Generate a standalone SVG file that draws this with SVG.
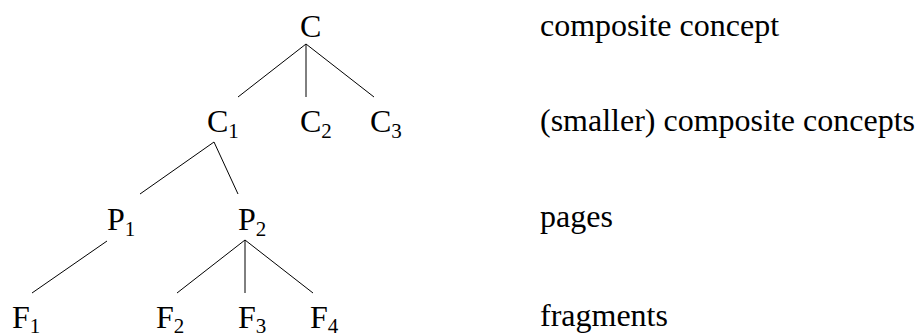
<svg xmlns="http://www.w3.org/2000/svg" width="919" height="336" viewBox="0 0 919 336">
<style>
.t{font-family:'Liberation Serif','Times New Roman','DejaVu Serif',serif;font-size:32px;fill:#000}
.sub{font-size:21px}
.edge{stroke:#000;stroke-width:1;fill:none}
</style>
<rect width="919" height="336" fill="#fff"/>
<g id="connectors">
<line class="edge" x1="306" y1="44" x2="238" y2="97"/>
<line class="edge" x1="306" y1="44" x2="306" y2="97"/>
<line class="edge" x1="306" y1="44" x2="374" y2="97"/>
<line class="edge" x1="214" y1="142" x2="140" y2="194"/>
<line class="edge" x1="214" y1="142" x2="238" y2="194"/>
<line class="edge" x1="107" y1="241" x2="32" y2="293"/>
<line class="edge" x1="245" y1="240" x2="177" y2="293"/>
<line class="edge" x1="245" y1="240" x2="245" y2="293"/>
<line class="edge" x1="245" y1="240" x2="313" y2="293"/>
</g>
<g id="node-C"><text class="t" x="300" y="37">C</text></g>
<g id="node-C1"><text class="t" x="207" y="132">C<tspan class="sub" dy="6">1</tspan></text></g>
<g id="node-C2"><text class="t" x="300" y="132">C<tspan class="sub" dy="6">2</tspan></text></g>
<g id="node-C3"><text class="t" x="370" y="132">C<tspan class="sub" dy="6">3</tspan></text></g>
<g id="node-P1"><text class="t" x="107" y="230">P<tspan class="sub" dy="6">1</tspan></text></g>
<g id="node-P2"><text class="t" x="238" y="230">P<tspan class="sub" dy="6">2</tspan></text></g>
<g id="node-F1"><text class="t" x="12" y="328">F<tspan class="sub" dy="5">1</tspan></text></g>
<g id="node-F2"><text class="t" x="156" y="328">F<tspan class="sub" dy="5">2</tspan></text></g>
<g id="node-F3"><text class="t" x="238" y="328">F<tspan class="sub" dy="5">3</tspan></text></g>
<g id="node-F4"><text class="t" x="310" y="328">F<tspan class="sub" dy="5">4</tspan></text></g>
<g id="labels">
<text class="t" x="540" y="36">composite concept</text>
<text class="t" x="540" y="131">(smaller) composite concepts</text>
<text class="t" x="540" y="227">pages</text>
<text class="t" x="540" y="326">fragments</text>
</g>
</svg>
